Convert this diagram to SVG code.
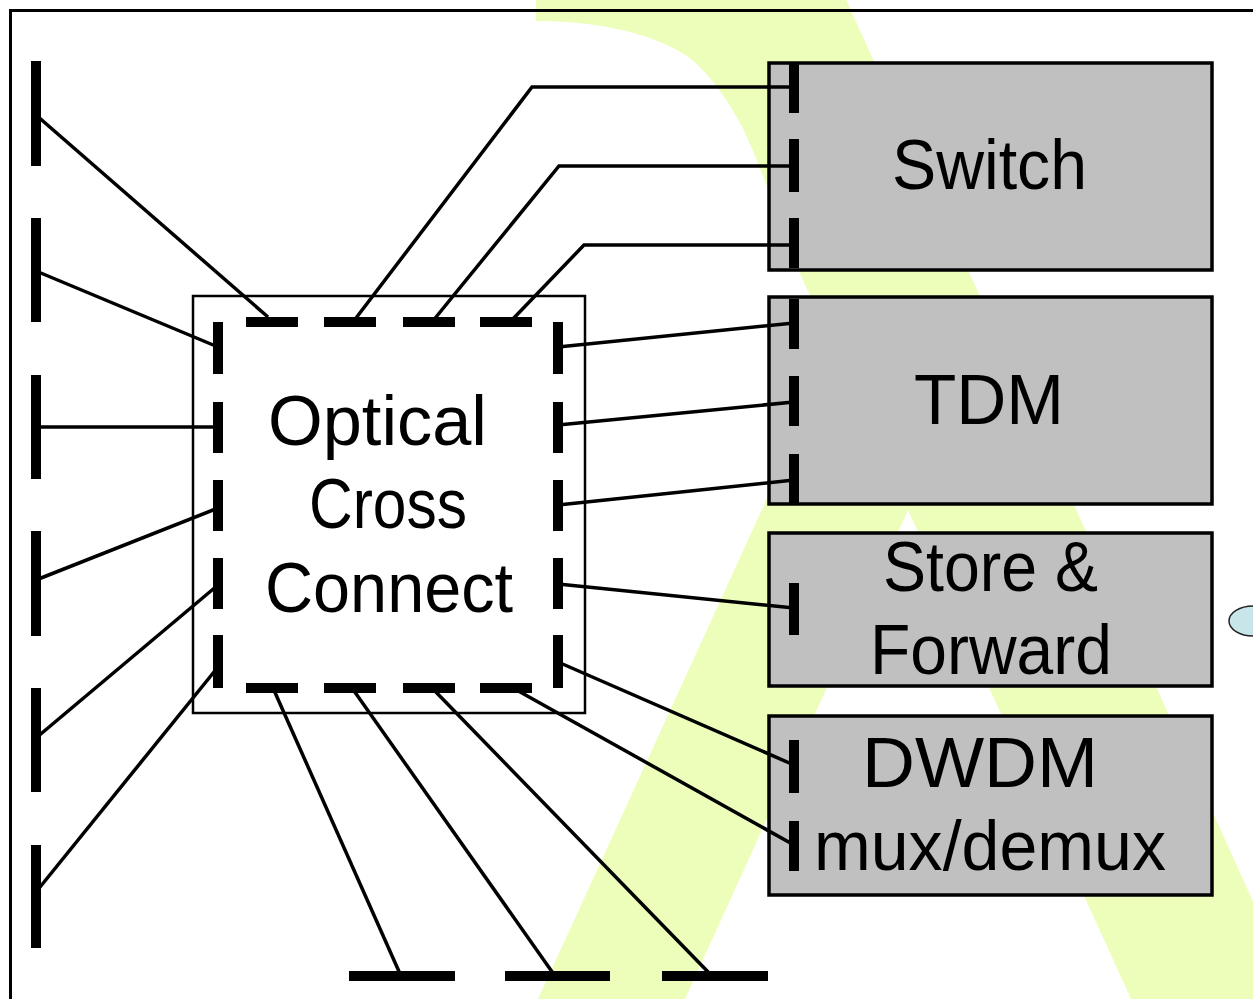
<svg xmlns="http://www.w3.org/2000/svg" width="1253" height="999" viewBox="0 0 1253 999">
<style>
.lbl{font-family:"Liberation Sans",Arial,sans-serif;font-size:70px;fill:#000;text-anchor:middle}
.box{fill:#c0c0c0;stroke:#000;stroke-width:3.5}
.wire{fill:none;stroke:#000;stroke-width:3.5}
.port{stroke:#000;stroke-width:10;fill:none}
</style>
<rect x="0" y="0" width="1253" height="999" fill="#fff"/>
<path id="lambda" fill="#edfebb" d="M536,-5 L844,-5 L1302,1010 L1136,1010 L908,510 L680,1010 L533,1010 L835.5,348.8 L805,285 C787,245 760,160 740,123 C722,90 700,62 677,50 C640,30 590,21 536,21 Z"/>
<rect id="frame" x="10.5" y="10.5" width="1300" height="1100" fill="none" stroke="#000" stroke-width="3"/>

<g id="oxc">
<rect x="193" y="296" width="392" height="417" fill="#fff" stroke="#000" stroke-width="2.5"/>
<text class="lbl" x="377.5" y="445" textLength="219" lengthAdjust="spacingAndGlyphs">Optical</text>
<text class="lbl" x="388" y="528" textLength="158" lengthAdjust="spacingAndGlyphs">Cross</text>
<text class="lbl" x="389" y="612" textLength="248" lengthAdjust="spacingAndGlyphs">Connect</text>
</g>
<g id="switch">
<rect class="box" x="769" y="63" width="443" height="207"/>
<text class="lbl" x="989.5" y="189" textLength="195" lengthAdjust="spacingAndGlyphs">Switch</text>
</g>
<g id="tdm">
<rect class="box" x="769" y="297" width="443" height="207"/>
<text class="lbl" x="989" y="424" textLength="150" lengthAdjust="spacingAndGlyphs">TDM</text>
</g>
<g id="store-forward">
<rect class="box" x="769" y="533" width="443" height="153"/>
<text class="lbl" x="990.5" y="591" textLength="215" lengthAdjust="spacingAndGlyphs">Store &amp;</text>
<text class="lbl" x="991" y="674" textLength="242" lengthAdjust="spacingAndGlyphs">Forward</text>
</g>
<g id="dwdm">
<rect class="box" x="769" y="716" width="443" height="179"/>
<text class="lbl" x="980" y="787" textLength="236" lengthAdjust="spacingAndGlyphs">DWDM</text>
<text class="lbl" x="990" y="870" textLength="352" lengthAdjust="spacingAndGlyphs">mux/demux</text>
</g>
<g id="node-ellipse">
<ellipse cx="1253" cy="621" rx="24" ry="15" fill="#c8e6ea" stroke="#222" stroke-width="1.5"/>
</g>

<g id="connectors" class="wire">
<!-- left external ports to OXC -->
<line x1="36" y1="115" x2="268" y2="317"/>
<line x1="36" y1="271" x2="218" y2="347"/>
<line x1="36" y1="427" x2="218" y2="427"/>
<line x1="36" y1="580" x2="218" y2="508"/>
<line x1="36" y1="738" x2="218" y2="585"/>
<line x1="36" y1="892" x2="218" y2="667"/>
<!-- OXC top to Switch -->
<polyline points="353,322 532,87 794,87"/>
<polyline points="432,322 559,166 794,166"/>
<polyline points="510,322 584,245 794,245"/>
<!-- OXC right to TDM / S&F / DWDM -->
<line x1="558" y1="347" x2="794" y2="323"/>
<line x1="558" y1="425" x2="794" y2="402"/>
<line x1="558" y1="505" x2="794" y2="480"/>
<line x1="558" y1="584" x2="794" y2="608"/>
<line x1="558" y1="662" x2="794" y2="765"/>
<line x1="513" y1="688" x2="794" y2="845"/>
<!-- OXC bottom to bottom ports -->
<line x1="273" y1="688" x2="401" y2="976"/>
<line x1="352" y1="688" x2="555" y2="976"/>
<line x1="432" y1="688" x2="712" y2="976"/>
</g>

<g id="oxc-ports" class="port">
<line x1="218" y1="322" x2="218" y2="374"/>
<line x1="218" y1="402" x2="218" y2="453"/>
<line x1="218" y1="480" x2="218" y2="531"/>
<line x1="218" y1="558" x2="218" y2="609"/>
<line x1="218" y1="635" x2="218" y2="688"/>
<line x1="558" y1="322" x2="558" y2="374"/>
<line x1="558" y1="402" x2="558" y2="453"/>
<line x1="558" y1="480" x2="558" y2="531"/>
<line x1="558" y1="558" x2="558" y2="609"/>
<line x1="558" y1="635" x2="558" y2="688"/>
<line x1="246" y1="322" x2="298" y2="322"/>
<line x1="324" y1="322" x2="376" y2="322"/>
<line x1="403" y1="322" x2="455" y2="322"/>
<line x1="480" y1="322" x2="532" y2="322"/>
<line x1="246" y1="688" x2="298" y2="688"/>
<line x1="324" y1="688" x2="376" y2="688"/>
<line x1="403" y1="688" x2="455" y2="688"/>
<line x1="480" y1="688" x2="532" y2="688"/>
</g>
<g id="box-ports" class="port">
<line x1="794" y1="63" x2="794" y2="113"/>
<line x1="794" y1="139" x2="794" y2="192"/>
<line x1="794" y1="218" x2="794" y2="268"/>
<line x1="794" y1="299" x2="794" y2="349"/>
<line x1="794" y1="376" x2="794" y2="426"/>
<line x1="794" y1="454" x2="794" y2="503"/>
<line x1="794" y1="583" x2="794" y2="635"/>
<line x1="794" y1="740" x2="794" y2="793"/>
<line x1="794" y1="821" x2="794" y2="871"/>
</g>
<g id="edge-ports" class="port">
<line x1="36" y1="61" x2="36" y2="166"/>
<line x1="36" y1="218" x2="36" y2="322"/>
<line x1="36" y1="375" x2="36" y2="479"/>
<line x1="36" y1="531" x2="36" y2="636"/>
<line x1="36" y1="688" x2="36" y2="792"/>
<line x1="36" y1="845" x2="36" y2="948"/>
<line x1="349" y1="976" x2="455" y2="976"/>
<line x1="505" y1="976" x2="610" y2="976"/>
<line x1="662" y1="976" x2="768" y2="976"/>
</g>
</svg>
